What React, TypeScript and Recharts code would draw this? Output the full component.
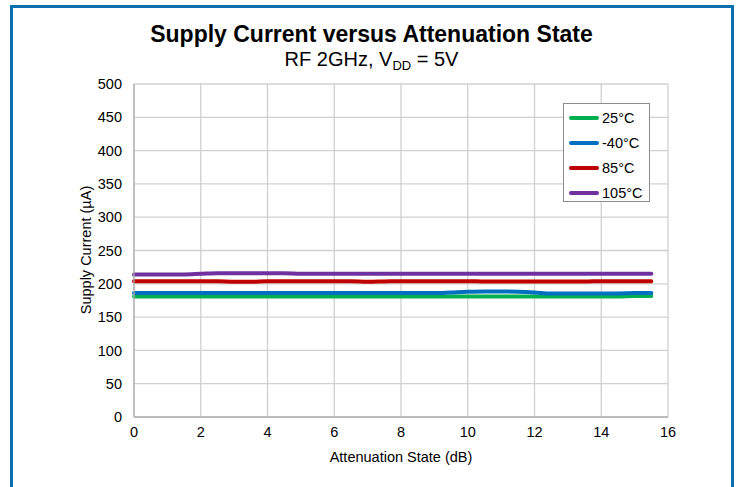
import React from 'react';
import { LineChart, Line, XAxis, YAxis, CartesianGrid } from 'recharts';

const attenuation = [
  0, 0.5, 1, 1.5, 2, 2.5, 3, 3.5, 4, 4.5, 5, 5.5, 6, 6.5, 7, 7.5,
  8, 8.5, 9, 9.5, 10, 10.5, 11, 11.5, 12, 12.5, 13, 13.5, 14, 14.5, 15, 15.5,
];
const t25 = [
  181, 181, 181, 181, 181, 181, 181, 181, 181, 181, 181, 181, 181, 181, 181, 181,
  181, 181, 181, 181, 181, 181, 181, 181, 181, 181, 181, 181, 181, 181, 181.5, 181.5,
];
const tMinus40 = [
  186, 186, 186, 186, 186, 186, 186, 186, 186, 186, 186, 186, 186, 186, 186, 186,
  186, 186, 186, 187, 188, 188.5, 188.5, 188, 187, 185.5, 185.5, 185.5, 185.5, 185.5, 186, 186,
];
const t85 = [
  204, 204, 204, 204, 204, 204, 203, 203, 204, 204, 204, 204, 204, 204, 203, 203.5,
  204, 204, 204, 204, 204, 203.5, 203.5, 203.5, 203.5, 203.5, 203.5, 203.5, 204, 204, 204, 204,
];
const t105 = [
  214, 214, 214, 214, 215, 216, 216, 216, 216, 216, 215, 215, 215, 215, 215, 215,
  215, 215, 215, 215, 215, 215, 215, 215, 215, 215, 215, 215, 215, 215, 215, 215,
];
const xTicks = [0, 2, 4, 6, 8, 10, 12, 14, 16];
const yTicks = [0, 50, 100, 150, 200, 250, 300, 350, 400, 450, 500];

const series = [
  { key: 't25', name: '25°C', color: '#00b050' },
  { key: 'tMinus40', name: '-40°C', color: '#0070c0' },
  { key: 't85', name: '85°C', color: '#c00000' },
  { key: 't105', name: '105°C', color: '#7030a0' },
];

const data = attenuation.map((x, i) => ({
  x,
  t25: t25[i],
  tMinus40: tMinus40[i],
  t85: t85[i],
  t105: t105[i],
}));

const font = '"Liberation Sans", Arial, sans-serif';

const LegendBox = () => (
  <div
    style={{
      position: 'absolute',
      left: 563,
      top: 103,
      width: 87,
      height: 99,
      boxSizing: 'border-box',
      border: '1px solid #8c8c8c',
      background: '#fff',
      paddingTop: 1,
      fontFamily: font,
      fontSize: 14.5,
      color: '#000',
    }}
  >
    {series.map((s) => (
      <div key={s.key} style={{ display: 'flex', alignItems: 'center', height: 25 }}>
        <span
          style={{
            display: 'inline-block',
            width: 30,
            height: 4,
            borderRadius: 2,
            background: s.color,
            marginLeft: 5,
            marginRight: 3,
          }}
        />
        {s.name}
      </div>
    ))}
  </div>
);

const App: React.FC = () => {
  return (
    <div
      style={{
        position: 'absolute',
        left: 0,
        top: 0,
        width: 740,
        height: 487,
        background: '#fff',
        overflow: 'hidden',
        fontFamily: font,
      }}
    >
      {/* blue frame, open at the bottom */}
      <div
        style={{
          position: 'absolute',
          left: 10,
          top: 5,
          width: 718,
          height: 500,
          borderTop: '3px solid #0b6fb2',
          borderLeft: '3px solid #0b6fb2',
          borderRight: '3px solid #0b6fb2',
        }}
      />
      <div
        style={{
          position: 'absolute',
          left: 0,
          top: 21,
          width: 743,
          textAlign: 'center',
          fontSize: 23,
          fontWeight: 'bold',
          color: '#000',
        }}
      >
        Supply Current versus Attenuation State
      </div>
      <div
        style={{
          position: 'absolute',
          left: 0,
          top: 48,
          width: 743,
          textAlign: 'center',
          fontSize: 20,
          color: '#000',
        }}
      >
        RF 2GHz, V<sub style={{ fontSize: 13, verticalAlign: '-4px' }}>DD</sub> = 5V
      </div>
      <div style={{ position: 'absolute', left: 0, top: 0 }}>
        <LineChart
          width={740}
          height={487}
          data={data}
          margin={{ top: 84, right: 72, bottom: 30, left: 74 }}
        >
          <CartesianGrid stroke="#d0d0d0" strokeWidth={1.3} />
          <XAxis
            dataKey="x"
            type="number"
            domain={[0, 16]}
            ticks={xTicks}
            interval={0}
            tickLine={false}
            tickSize={0}
            tickMargin={10}
            height={40}
            stroke="#b0b0b0"
            strokeWidth={1.3}
            tick={{ fill: '#000', fontSize: 14.5, fontFamily: font }}
            label={{
              content: () => (
                <text
                  x={401}
                  y={462}
                  textAnchor="middle"
                  fontSize={14.5}
                  fontFamily={font}
                  fill="#000"
                >
                  Attenuation State (dB)
                </text>
              ),
            }}
          />
          <YAxis
            type="number"
            domain={[0, 500]}
            ticks={yTicks}
            interval={0}
            tickLine={false}
            tickSize={0}
            tickMargin={12}
            width={60}
            stroke="#b0b0b0"
            strokeWidth={1.3}
            tick={{ fill: '#000', fontSize: 14.5, fontFamily: font }}
            label={{
              content: () => (
                <text
                  x={91}
                  y={250}
                  textAnchor="middle"
                  fontSize={14.5}
                  fontFamily={font}
                  fill="#000"
                  transform="rotate(-90 91 250)"
                >
                  Supply Current (µA)
                </text>
              ),
            }}
          />
          {series.map((s) => (
            <Line
              key={s.key}
              type="monotone"
              dataKey={s.key}
              name={s.name}
              stroke={s.color}
              strokeWidth={4}
              strokeLinecap="round"
              dot={false}
              isAnimationActive={false}
            />
          ))}
        </LineChart>
      </div>
      <LegendBox />
    </div>
  );
};

export default App;
